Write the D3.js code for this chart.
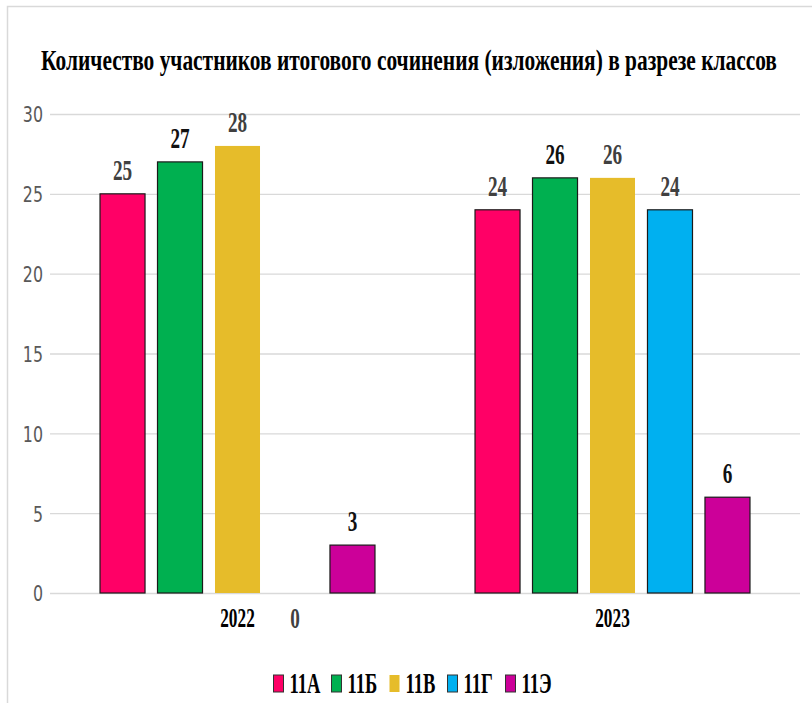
<!DOCTYPE html>
<html><head><meta charset="utf-8">
<script src="https://cdn.jsdelivr.net/npm/d3@7/dist/d3.min.js"></script>
<style>body{margin:0;background:#fff}svg{display:block}</style>
</head><body>
<svg id="c" width="812" height="703"></svg>
<script>
const title = "Количество участников итогового сочинения (изложения) в разрезе классов";
const years = ["2022", "2023"];
const classes = ["11А", "11Б", "11В", "11Г", "11Э"];
const values2022 = [25, 27, 28, 0, 3];
const values2023 = [24, 26, 26, 24, 6];
const yTicks = [0, 5, 10, 15, 20, 25, 30];
const colors = ["#FF0066", "#00B050", "#E6BC2A", "#00B0F0", "#CC0099"];
const labelColors = ["#404040", "#111111", "#404040", "#404040", "#111111"];
const series = [values2022, values2023];

const svg = d3.select("#c");
const serif = "'Liberation Serif','DejaVu Serif',serif";
const sans = "'DejaVu Sans',sans-serif";

// frame
svg.append("rect").attr("x", 7.5).attr("y", 6.5).attr("width", 900).attr("height", 900)
  .attr("fill", "none").attr("stroke", "#d9d9d9").attr("stroke-width", 1.5);

// title, condensed to the reference width
const t = svg.append("text").attr("text-anchor", "middle")
  .attr("font-family", serif).attr("font-weight", "bold").attr("font-size", 29).attr("fill", "#000").text(title);
const tl = t.node().getComputedTextLength();
t.attr("transform", `translate(409,70) scale(${736 / tl},1)`);

const margin = {left: 50, right: 800, top: 114, bottom: 593};
const x0 = d3.scaleBand().domain(years).range([margin.left, margin.right]).paddingInner(0).paddingOuter(0);
const x1 = d3.scaleBand().domain(classes).range([0, x0.bandwidth()]).paddingInner(0.217).paddingOuter(0.87);
const y = d3.scaleLinear().domain([0, 30]).range([margin.bottom, margin.top]);

// grid
svg.append("g").selectAll("line").data(yTicks).join("line")
  .attr("x1", margin.left).attr("x2", margin.right)
  .attr("y1", d => y(d) + 0.5).attr("y2", d => y(d) + 0.5)
  .attr("stroke", "#d9d9d9").attr("stroke-width", 1.3);

// y axis
const sxTick = 0.72;
const ax = svg.append("g").attr("transform", `translate(${margin.left},0)`)
  .call(d3.axisLeft(y).tickValues(yTicks).tickSize(0).tickPadding(0));
ax.select(".domain").remove();
ax.selectAll("text").attr("x", null).attr("dy", "0.36em")
  .attr("transform", `translate(-7,0) scale(${sxTick},1)`)
  .attr("font-family", sans).attr("font-size", 22).attr("fill", "#595959").attr("text-anchor", "end");

// bars
const groups = svg.append("g").selectAll("g").data(years).join("g")
  .attr("transform", d => `translate(${x0(d)},0)`);
groups.selectAll("rect").data((d, i) => series[i].map((v, j) => ({v, j}))).join("rect")
  .filter(d => d.v > 0)
  .attr("x", d => x1(classes[d.j])).attr("width", x1.bandwidth())
  .attr("y", d => y(d.v)).attr("height", d => y(0) - y(d.v))
  .attr("fill", d => colors[d.j])
  .attr("stroke", d => d.j === 2 ? "none" : "#1a1a1a").attr("stroke-width", 1.2);

const sxLab = 0.64;
groups.selectAll("text.val").data((d, i) => series[i].map((v, j) => ({v, j}))).join("text")
  .attr("class", "val")
  .attr("transform", d => {
    const cx = x1(classes[d.j]) + x1.bandwidth() / 2;
    const by = d.v > 0 ? y(d.v) - 14 : y(0) + 35;
    return `translate(${cx},${by}) scale(${sxLab},1)`;
  })
  .attr("text-anchor", "middle").attr("font-family", serif).attr("font-weight", "bold")
  .attr("font-size", 30).attr("fill", d => labelColors[d.j]).text(d => d.v);

// category labels
svg.append("g").selectAll("text").data(years).join("text")
  .attr("transform", d => `translate(${x0(d) + x0.bandwidth() / 2},627) scale(${sxLab},1)`)
  .attr("text-anchor", "middle").attr("font-family", serif).attr("font-weight", "bold")
  .attr("font-size", 27).attr("fill", "#000").text(d => d);

// legend
const leg = svg.append("g").selectAll("g").data(classes).join("g")
  .attr("transform", (d, i) => `translate(${273.5 + i * 58},0)`);
leg.append("rect").attr("x", 0).attr("y", 675).attr("width", 10).attr("height", 17)
  .attr("fill", (d, i) => colors[i]).attr("stroke", (d, i) => i === 2 ? "none" : "#333").attr("stroke-width", 1);
leg.append("text").attr("transform", `translate(16,693) scale(${sxLab},1)`)
  .attr("font-family", serif).attr("font-weight", "bold").attr("font-size", 29).attr("fill", "#000").text(d => d);
</script>
</body></html>
